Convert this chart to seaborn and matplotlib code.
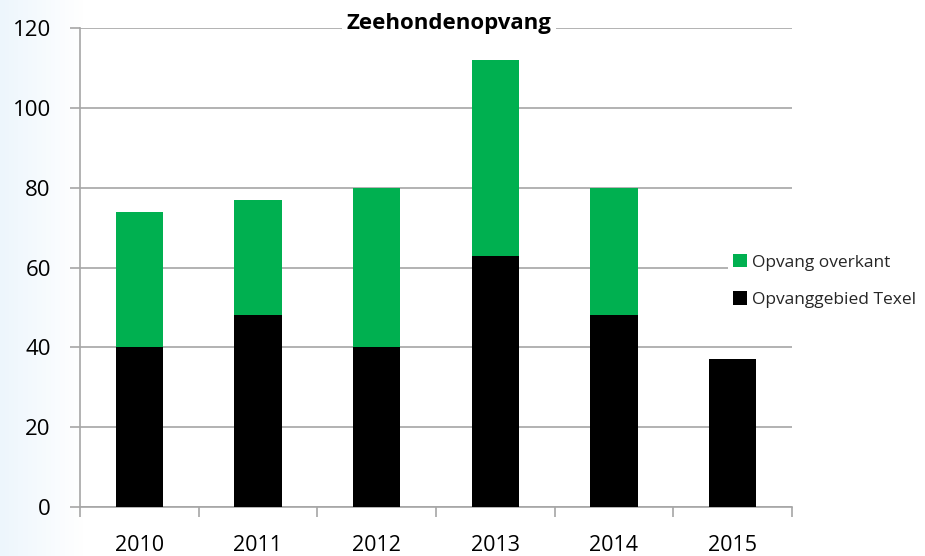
import numpy as np
import pandas as pd
import matplotlib
matplotlib.use("Agg")
import matplotlib.pyplot as plt
import seaborn as sns
from matplotlib.patches import Patch

years = ["2010", "2011", "2012", "2013", "2014", "2015"]
texel = [40, 48, 40, 63, 48, 37]
overkant = [34, 29, 40, 49, 32, 0]
totals = [a + b for a, b in zip(texel, overkant)]

df = pd.DataFrame({"jaar": years, "texel": texel, "totaal": totals})

sns.set_theme(style="white")
plt.rcParams["font.family"] = ["Open Sans", "DejaVu Sans"]

W, H = 925, 556
fig = plt.figure(figsize=(W / 100, H / 100), dpi=100)
fig.patch.set_facecolor("white")

# subtle bluish gradient at the left edge
bg = fig.add_axes([0, 0, 1, 1], zorder=-10)
grad = np.ones((10, 200, 3))
xs = np.linspace(0, 1, 200)
t = np.clip(xs / 0.09, 0, 1)
c0 = np.array([0.93, 0.965, 0.99])
for i in range(3):
    grad[:, :, i] = c0[i] + (1 - c0[i]) * t
bg.imshow(grad, aspect="auto", extent=[0, 1, 0, 1])
bg.axis("off")

ax = fig.add_axes([80 / W, 1 - 507 / H, (792 - 80) / W, (507 - 28) / H])
ax.set_facecolor("white")

green = "#00b050"
sns.barplot(data=df, x="jaar", y="totaal", color=green, width=0.4, ax=ax,
            saturation=1, zorder=3, linewidth=0, edgecolor="none")
sns.barplot(data=df, x="jaar", y="texel", color="black", width=0.4, ax=ax,
            saturation=1, zorder=4, linewidth=0, edgecolor="none")

ax.set_xlim(-0.5, 5.5)
ax.set_ylim(0, 120)
ax.set_yticks(range(0, 121, 20))
ax.set_xlabel("")
ax.set_ylabel("")
grid_c = "#a6a6a6"
ax.yaxis.grid(True, color=grid_c, linewidth=1.2, zorder=0)
ax.set_axisbelow(True)
for s in ["top", "right"]:
    ax.spines[s].set_visible(False)
for s in ["left", "bottom"]:
    ax.spines[s].set_color(grid_c)
    ax.spines[s].set_linewidth(1.2)

ax.set_xticks(np.arange(-0.5, 6, 1), minor=True)
ax.tick_params(axis="x", which="major", length=0, pad=20, labelsize=15.5, colors="black")
ax.tick_params(axis="x", which="minor", length=7, width=1.2, color=grid_c, direction="out", bottom=True)
ax.tick_params(axis="y", which="major", length=7, width=1.2, color=grid_c, direction="out",
               left=True, pad=14, labelsize=16, labelcolor="black")

fig.text(449 / W, 1 - 24 / H, "Zeehondenopvang", ha="center", va="center",
         fontsize=16, fontweight="bold", color="black",
         bbox=dict(facecolor="white", edgecolor="none", pad=3))

handles = [Patch(facecolor=green, edgecolor="none", label="Opvang overkant"),
           Patch(facecolor="black", edgecolor="none", label="Opvanggebied Texel")]
leg = fig.legend(handles=handles, loc="upper left", bbox_to_anchor=(719 / W, 1 - 240 / H),
                 frameon=True, fontsize=12.5, handlelength=0.8, handleheight=0.8,
                 handletextpad=0.3, labelspacing=1.2, borderpad=0.3)
leg.get_frame().set_facecolor("white")
leg.get_frame().set_edgecolor("none")
leg.get_frame().set_alpha(1)

fig.savefig("out.png", dpi=100)
